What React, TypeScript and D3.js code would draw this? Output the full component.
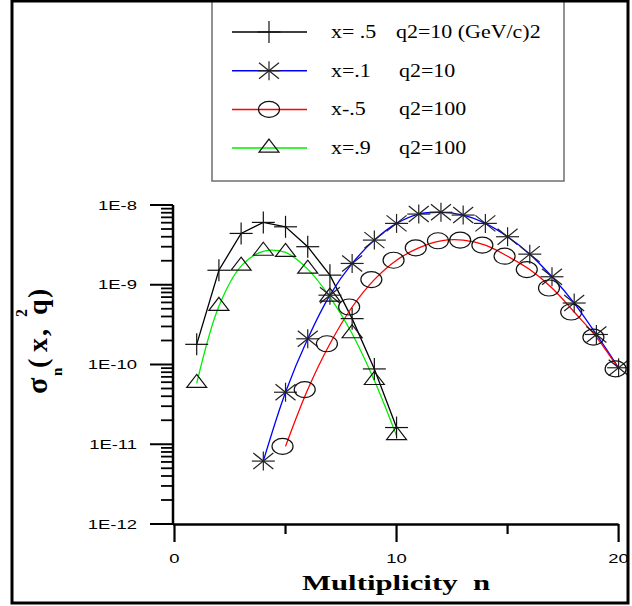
import * as d3 from 'd3';

// multiplicity n and sigma_n values
const nPlus = [1, 2, 3, 4, 5, 6, 7, 8, 9, 10];
const sigPlus = [1.79e-10, 1.52e-9, 4.4e-9, 6.05e-9, 5.33e-9, 3.0e-9, 1.32e-9, 3.76e-10, 8.8e-11, 1.62e-11];

const nStar = [4, 5, 6, 7, 8, 9, 10, 11, 12, 13, 14, 15, 16, 17, 18, 19, 20];
const sigStar = [6.15e-12, 4.49e-11, 2.1e-10, 7.4e-10, 1.85e-9, 3.63e-9, 5.88e-9, 7.7e-9, 8.1e-9, 7.48e-9, 5.88e-9, 4.0e-9, 2.42e-9, 1.26e-9, 5.9e-10, 2.38e-10, 9.1e-11];

const nCircle = [5, 6, 7, 8, 9, 10, 11, 12, 13, 14, 15, 16, 17, 18, 19, 20];
const sigCircle = [9.4e-12, 4.85e-11, 1.82e-10, 5.26e-10, 1.16e-9, 2.03e-9, 2.9e-9, 3.56e-9, 3.63e-9, 3.14e-9, 2.28e-9, 1.55e-9, 9.1e-10, 4.55e-10, 2.2e-10, 8.8e-11];

const nTri = [1, 2, 3, 4, 5, 6, 7, 8, 9, 10];
const sigTri = [5.8e-11, 5.37e-10, 1.71e-9, 2.63e-9, 2.54e-9, 1.57e-9, 7.0e-10, 2.43e-10, 6.3e-11, 1.28e-11];

const legendX = ['x= .5', 'x=.1', 'x-.5', 'x=.9'];
const legendQ = ['q2=10 (GeV/c)2', 'q2=10', 'q2=100', 'q2=100'];

const yMajor = [1e-12, 1e-11, 1e-10, 1e-9, 1e-8];
const yMajorLabels = ['1E-12', '1E-11', '1E-10', '1E-9', '1E-8'];
const xMajor = [0, 10, 20];
const xMinor = [5, 15];

const W = 632;
const H = 606;
const SANS = "'Liberation Sans', Arial, sans-serif";
const SERIF = "'Liberation Serif', 'Times New Roman', serif";

const x = d3.scaleLinear().domain([0, 20]).range([174.5, 618.6]);
const y = d3.scaleLog().domain([1e-12, 1e-8]).range([524, 205]);

type Kind = 'plus' | 'star' | 'circle' | 'tri';

function Marker({ kind, cx, cy }: { kind: Kind; cx: number; cy: number }) {
  const s = { stroke: '#111', strokeWidth: 1.2, fill: 'none' };
  if (kind === 'plus') {
    return (
      <g {...s}>
        <line x1={cx - 11.5} x2={cx + 11.5} y1={cy} y2={cy} />
        <line x1={cx} x2={cx} y1={cy - 11} y2={cy + 11} />
      </g>
    );
  }
  if (kind === 'star') {
    return (
      <g {...s} stroke="#222">
        <line x1={cx - 11.5} x2={cx + 11.5} y1={cy} y2={cy} />
        <line x1={cx} x2={cx} y1={cy - 9.5} y2={cy + 9.5} />
        <line x1={cx - 10} x2={cx + 10} y1={cy - 8} y2={cy + 8} />
        <line x1={cx - 10} x2={cx + 10} y1={cy + 8} y2={cy - 8} />
      </g>
    );
  }
  if (kind === 'circle') {
    return <ellipse {...s} cx={cx - 3} cy={cy} rx={10.5} ry={8} />;
  }
  return <path {...s} d={`M${cx},${cy - 9}L${cx + 10},${cy + 4}L${cx - 10},${cy + 4}Z`} />;
}

interface Series {
  n: number[];
  v: number[];
  color: string;
  kind: Kind;
  curve: d3.CurveFactory;
}

const series: Series[] = [
  { n: nPlus, v: sigPlus, color: '#000000', kind: 'plus', curve: d3.curveLinear },
  { n: nStar, v: sigStar, color: '#0000ff', kind: 'star', curve: d3.curveCatmullRom },
  { n: nCircle, v: sigCircle, color: '#ff0000', kind: 'circle', curve: d3.curveCatmullRom },
  { n: nTri, v: sigTri, color: '#00ee00', kind: 'tri', curve: d3.curveCatmullRom },
];

// old Origin export: text is stretched horizontally
function WideText({ tx, ty, sx, anchor, size, family, bold, children }: any) {
  return (
    <text
      transform={`translate(${tx},${ty}) scale(${sx},1)`}
      textAnchor={anchor}
      fontSize={size}
      fontFamily={family}
      fontWeight={bold ? 'bold' : 'normal'}
      style={{ whiteSpace: 'pre' }}
    >
      {children}
    </text>
  );
}

export default function App() {
  const minorY: number[] = [];
  for (let e = -12; e < -8; e++) {
    for (let k = 2; k <= 9; k++) minorY.push(k * Math.pow(10, e));
  }

  return (
    <svg width={W} height={H} style={{ position: 'absolute', left: 0, top: 0, background: '#fff' }}>
      <defs>
        <clipPath id="frame">
          <rect x={12} y={1} width={616} height={602} />
        </clipPath>
      </defs>
      <g clipPath="url(#frame)">
        {/* legend */}
        <rect x={212} y={-5} width={352} height={186} fill="none" stroke="#777" strokeWidth={1.6} />
        {series.map((s, i) => {
          const ly = 32 + i * 38.7;
          return (
            <g key={'lg' + i}>
              <line x1={232} x2={307} y1={ly} y2={ly} stroke={s.color} strokeWidth={1.5} />
              <Marker kind={s.kind} cx={s.kind === 'circle' ? 272 : 269} cy={ly} />
              <WideText tx={331} ty={ly + 6} sx={1.22} anchor="start" size={18} family={SERIF}>
                {legendX[i]}
              </WideText>
              <WideText tx={i === 0 ? 396 : 399} ty={ly + 6} sx={1.22} anchor="start" size={18} family={SERIF}>
                {legendQ[i]}
              </WideText>
            </g>
          );
        })}

        {/* axes */}
        <line x1={173} x2={173} y1={205} y2={525} stroke="#000" strokeWidth={2.5} />
        <line x1={173} x2={x(20)} y1={524.5} y2={524.5} stroke="#000" strokeWidth={2.5} />
        {yMajor.map((v, i) => (
          <g key={'ym' + i}>
            <line x1={150} x2={173} y1={y(v)} y2={y(v)} stroke="#000" strokeWidth={2} />
            <WideText tx={137} ty={y(v) + 4.5} sx={1.42} anchor="end" size={13} family={SANS}>
              {yMajorLabels[i]}
            </WideText>
          </g>
        ))}
        {minorY.map((v, i) => (
          <line key={'yn' + i} x1={161} x2={173} y1={y(v)} y2={y(v)} stroke="#000" strokeWidth={1.8} />
        ))}
        {xMajor.map((v) => (
          <g key={'xm' + v}>
            <line x1={x(v)} x2={x(v)} y1={524} y2={542} stroke="#000" strokeWidth={2.2} />
            <WideText tx={x(v)} ty={563} sx={1.42} anchor="middle" size={13} family={SANS}>
              {String(v)}
            </WideText>
          </g>
        ))}
        {xMinor.map((v) => (
          <line key={'xn' + v} x1={x(v)} x2={x(v)} y1={524} y2={534} stroke="#000" strokeWidth={2.2} />
        ))}

        {/* axis titles */}
        <WideText tx={396} ty={590} sx={1.4} anchor="middle" size={22} family={SERIF} bold>
          {'Multiplicity  n'}
        </WideText>
        <g transform="translate(47,395) rotate(-90)" fontFamily={SERIF} fontWeight="bold">
          <text x={1} y={0} fontSize={30}>σ</text>
          <text x={19} y={15} fontSize={15}>n</text>
          <text x={27} y={0} fontSize={28}>(</text>
          <text x={43} y={0} fontSize={28}>x</text>
          <text x={59} y={0} fontSize={28}>,</text>
          <text x={80} y={0} fontSize={28}>q</text>
          <text x={78} y={-20} fontSize={16}>2</text>
          <text x={97} y={0} fontSize={28}>)</text>
        </g>

        {/* data lines */}
        {series.map((s, i) => {
          const line = d3
            .line<number>()
            .x((_, j) => x(s.n[j]))
            .y((d) => y(d))
            .curve(s.curve);
          return <path key={'ln' + i} d={line(s.v) ?? ''} fill="none" stroke={s.color} strokeWidth={1.3} />;
        })}

        {/* markers */}
        {series.map((s, i) =>
          s.v.map((v, j) => <Marker key={`mk${i}-${j}`} kind={s.kind} cx={x(s.n[j])} cy={y(v)} />)
        )}
      </g>

      {/* outer frame */}
      <rect x={12} y={1} width={616} height={602} fill="none" stroke="#000" strokeWidth={3} />
    </svg>
  );
}
